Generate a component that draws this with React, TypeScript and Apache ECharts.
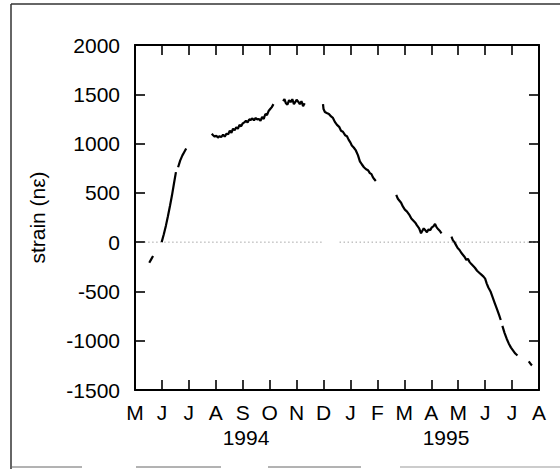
import React, { useEffect, useRef } from "react";
import * as echarts from "echarts";

// x = months since 1 May 1994, y = strain (nε)
const monthLabels = ["M", "J", "J", "A", "S", "O", "N", "D", "J", "F", "M", "A", "M", "J", "J", "A"];
const yearLabels = ["1994", "1995"];
const yTicks = [-1500, -1000, -500, 0, 500, 1000, 1500, 2000];

const segMay94: number[][] = [[0.53, -210], [0.6, -175], [0.67, -140]];
const segJun94a: number[][] = [
  [0.99, 0], [1.07, 80], [1.15, 170], [1.22, 260], [1.3, 370], [1.37, 470], [1.45, 600], [1.52, 710],
];
const segJun94b: number[][] = [[1.6, 760], [1.68, 830], [1.76, 880], [1.84, 920], [1.9, 950]];
const segAugOct94: number[][] = [
  [2.85, 1100], [2.9, 1085], [2.96, 1070], [3.02, 1080], [3.08, 1060], [3.14, 1075], [3.2, 1065],
  [3.27, 1090], [3.33, 1070], [3.4, 1100], [3.46, 1095], [3.52, 1130], [3.58, 1110], [3.64, 1150],
  [3.7, 1135], [3.76, 1165], [3.82, 1150], [3.88, 1190], [3.94, 1175], [4.0, 1205], [4.06, 1215],
  [4.12, 1230], [4.18, 1215], [4.24, 1245], [4.3, 1240], [4.36, 1255], [4.42, 1235], [4.48, 1260],
  [4.54, 1245], [4.6, 1250], [4.66, 1230], [4.72, 1270], [4.78, 1250], [4.84, 1300], [4.9, 1290],
  [4.96, 1330], [5.02, 1350], [5.08, 1370], [5.14, 1400],
];
const segOctNov94: number[][] = [
  [5.5, 1430], [5.55, 1450], [5.6, 1410], [5.66, 1395], [5.72, 1440], [5.78, 1420], [5.84, 1450],
  [5.9, 1400], [5.95, 1420], [6.0, 1445], [6.06, 1425], [6.12, 1400], [6.18, 1430], [6.24, 1380],
  [6.3, 1410],
];
const segDecFeb: number[][] = [
  [6.98, 1400], [7.0, 1350], [7.05, 1320], [7.12, 1310], [7.2, 1300], [7.28, 1275], [7.35, 1260],
  [7.42, 1220], [7.5, 1190], [7.58, 1170], [7.65, 1130], [7.72, 1120], [7.8, 1085], [7.87, 1075],
  [7.93, 1040], [8.0, 1010], [8.05, 980], [8.12, 960], [8.2, 930], [8.28, 880], [8.35, 820],
  [8.42, 790], [8.5, 760], [8.58, 740], [8.65, 730], [8.72, 700], [8.78, 690], [8.83, 660],
  [8.88, 640], [8.94, 620],
];
const segMarApr95: number[][] = [
  [9.7, 480], [9.76, 440], [9.82, 420], [9.88, 400], [9.95, 360], [10.02, 330], [10.1, 310],
  [10.18, 280], [10.26, 240], [10.33, 220], [10.4, 200], [10.47, 170], [10.55, 140], [10.62, 90],
  [10.67, 115], [10.72, 140], [10.78, 120], [10.84, 100], [10.9, 130], [10.96, 120], [11.02, 150],
  [11.08, 160], [11.14, 185], [11.2, 150], [11.26, 130], [11.33, 110], [11.38, 90],
];
const segMayJun95: number[][] = [
  [11.75, 55], [11.8, 20], [11.86, 0], [11.92, -30], [11.98, -60], [12.05, -80], [12.12, -110],
  [12.18, -130], [12.24, -150], [12.3, -180], [12.36, -170], [12.42, -200], [12.48, -220],
  [12.55, -240], [12.62, -260], [12.7, -290], [12.78, -310], [12.86, -330], [12.94, -350],
  [13.0, -370], [13.06, -420], [13.12, -460], [13.2, -500], [13.28, -560], [13.36, -620],
  [13.44, -680], [13.52, -740], [13.58, -790],
];
const segJul95: number[][] = [
  [13.64, -850], [13.72, -920], [13.8, -980], [13.88, -1030], [13.96, -1070], [14.04, -1100],
  [14.12, -1130], [14.2, -1150],
];
const segLate95: number[][] = [[14.62, -1210], [14.7, -1240], [14.74, -1250]];
const zeroA: number[][] = [[0.35, 0], [7.0, 0]];
const zeroB: number[][] = [[7.6, 0], [15, 0]];

const FONT = "Liberation Sans, Arial, Helvetica, sans-serif";

export default function App() {
  const ref = useRef<HTMLDivElement>(null);
  useEffect(() => {
    if (!ref.current) return;
    const chart = echarts.init(ref.current, null, { renderer: "svg" });
    const segs = [segMay94, segJun94a, segJun94b, segAugOct94, segOctNov94, segDecFeb, segMarApr95, segMayJun95, segJul95, segLate95];
    const axisLine = { show: true, onZero: false, lineStyle: { color: "#000", width: 2 } };
    const tick = { show: true, inside: true, length: 10, lineStyle: { color: "#000", width: 1.6 } };
    chart.setOption({
      animation: false,
      backgroundColor: "#fff",
      grid: { left: 135, right: 21, top: 45, bottom: 79 },
      xAxis: [
        {
          type: "value", min: 0, max: 15, interval: 1, position: "bottom",
          axisLine, axisTick: tick, splitLine: { show: false },
          axisLabel: {
            margin: 12, color: "#000", fontSize: 21, lineHeight: 21, fontFamily: FONT,
            formatter: (v: number) => monthLabels[Math.round(v)] ?? "",
          },
        },
        {
          type: "value", min: 0, max: 15, interval: 1, position: "top",
          axisLine, axisTick: tick, splitLine: { show: false }, axisLabel: { show: false },
        },
      ],
      yAxis: [
        {
          type: "value", min: yTicks[0], max: yTicks[yTicks.length - 1], interval: 500, position: "left",
          axisLine, axisTick: tick, splitLine: { show: false },
          axisLabel: { margin: 15, color: "#000", fontSize: 21, fontFamily: FONT, formatter: (v: number) => String(v) },
          name: "strain (nε)", nameLocation: "middle", nameGap: 87,
          nameTextStyle: { color: "#000", fontSize: 21, fontFamily: FONT },
        },
        {
          type: "value", min: yTicks[0], max: yTicks[yTicks.length - 1], interval: 500, position: "right",
          axisLine, axisTick: tick, splitLine: { show: false }, axisLabel: { show: false },
        },
      ],
      series: [
        ...[zeroA, zeroB].map((d) => ({
          type: "line", data: d, showSymbol: false, silent: true, xAxisIndex: 0, yAxisIndex: 0,
          lineStyle: { color: "#777", width: 1, type: [1, 3] },
        })),
        ...segs.map((d) => ({
          type: "line", data: d, showSymbol: false, silent: true, xAxisIndex: 0, yAxisIndex: 0,
          lineStyle: { color: "#000", width: 2.2 },
        })),
      ],
      graphic: [
        { type: "line", shape: { x1: 11, y1: 4, x2: 560, y2: 4 }, style: { stroke: "#333", lineWidth: 1.5 } },
        { type: "line", shape: { x1: 11, y1: 4, x2: 11, y2: 469 }, style: { stroke: "#333", lineWidth: 1.5 } },
        { type: "line", shape: { x1: 11, y1: 467, x2: 82, y2: 467 }, style: { stroke: "#666", lineWidth: 1 } },
        { type: "line", shape: { x1: 136, y1: 467, x2: 221, y2: 467 }, style: { stroke: "#666", lineWidth: 1 } },
        { type: "line", shape: { x1: 268, y1: 467, x2: 361, y2: 467 }, style: { stroke: "#666", lineWidth: 1 } },
        { type: "line", shape: { x1: 400, y1: 467, x2: 560, y2: 467 }, style: { stroke: "#999", lineWidth: 1 } },
        {
          type: "text", x: 246, y: 437,
          style: { text: yearLabels[0], fill: "#000", fontSize: 21, fontFamily: FONT, align: "center", verticalAlign: "middle" },
        },
        {
          type: "text", x: 446, y: 437,
          style: { text: yearLabels[1], fill: "#000", fontSize: 21, fontFamily: FONT, align: "center", verticalAlign: "middle" },
        },
      ],
    });
    return () => chart.dispose();
  }, []);
  return <div ref={ref} style={{ position: "absolute", left: 0, top: 0, width: 560, height: 469 }} />;
}
